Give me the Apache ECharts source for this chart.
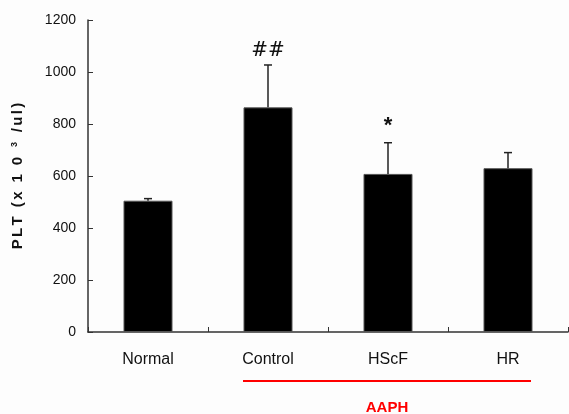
<!DOCTYPE html>
<html>
<head>
<meta charset="utf-8">
<script src="https://cdn.jsdelivr.net/npm/echarts@6/dist/echarts.min.js"></script>
<style>html,body{margin:0;padding:0;background:#fdfdfd;}#c{width:569px;height:414px;}</style>
</head>
<body>
<div id="c"></div>
<script>
const categories = ['Normal', 'Control', 'HScF', 'HR'];
const values = [505, 864, 608, 630];
const errors = [8, 163, 120, 60];
const sigLabels = ['', '##', '*', ''];
const yTicks = [0, 200, 400, 600, 800, 1000, 1200];
const groupLabel = 'AAPH';
const yNameParts = ['PLT (x 1 0 ', '3', ' /ul)'];

const chart = echarts.init(document.getElementById('c'));
const font = 'Liberation Sans, Arial, sans-serif';

function spaced(str) {
  return str.split('').map(ch => '{a|' + ch + '}').join('');
}
const yName = spaced(yNameParts[0]) + '{s|' + yNameParts[1] + '}' + spaced(yNameParts[2]);

chart.setOption({
  backgroundColor: '#fdfdfd',
  animation: false,
  grid: { left: 88, right: 1, top: 20, bottom: 82, containLabel: false },
  xAxis: {
    type: 'category',
    data: categories,
    axisLine: { lineStyle: { color: '#333', width: 1.5 } },
    axisTick: { show: true, inside: true, length: 5, interval: 0, lineStyle: { color: '#333' } },
    axisLabel: { margin: 20, fontFamily: font, fontSize: 16, color: '#111' }
  },
  yAxis: {
    type: 'value',
    min: yTicks[0], max: yTicks[yTicks.length - 1], interval: 200,
    splitLine: { show: false },
    axisLine: { show: true, lineStyle: { color: '#333', width: 1.5 } },
    axisTick: { show: true, inside: true, length: 5, lineStyle: { color: '#333' } },
    axisLabel: { margin: 12, fontFamily: font, fontSize: 14, color: '#111', formatter: v => String(v) },
    name: yName,
    nameLocation: 'middle',
    nameRotate: 90,
    nameGap: 62,
    nameTextStyle: {
      rich: {
        a: { fontFamily: font, fontSize: 15, fontWeight: 'bold', color: '#111', padding: [0, 1.2, 0, 1.2] },
        s: { fontFamily: font, fontSize: 9, fontWeight: 'bold', color: '#111', verticalAlign: 'top', padding: [0, 2, 7, 2] }
      }
    }
  },
  series: [
    {
      type: 'bar',
      data: values,
      barWidth: 49,
      itemStyle: { color: '#000', borderColor: '#555', borderWidth: 1 },
      z: 2
    },
    {
      type: 'custom',
      data: values.map((v, i) => [i, v, v + errors[i]]),
      z: 3,
      renderItem: function (params, api) {
        const i = api.value(0);
        const base = api.coord([i, api.value(1)]);
        const top = api.coord([i, api.value(2)]);
        const hw = 4;
        const children = [
          { type: 'line', shape: { x1: base[0], y1: base[1], x2: top[0], y2: top[1] }, style: { stroke: '#222', lineWidth: 1.5 } },
          { type: 'line', shape: { x1: top[0] - hw, y1: top[1], x2: top[0] + hw, y2: top[1] }, style: { stroke: '#222', lineWidth: 1.5 } }
        ];
        const lab = sigLabels[i];
        if (lab) {
          const isStar = lab === '*';
          children.push({
            type: 'text',
            style: {
              text: lab,
              x: top[0],
              y: top[1] - (isStar ? 6 : 4),
              align: 'center',
              verticalAlign: 'bottom',
              fontFamily: isStar ? font : 'DejaVu Serif, serif',
              fontSize: isStar ? 22 : 20,
              fontWeight: isStar ? 'bold' : 'normal',
              fill: '#111'
            }
          });
        }
        return { type: 'group', children: children };
      }
    }
  ]
});

function drawGroup() {
  const p1 = chart.convertToPixel({ xAxisIndex: 0 }, 1);
  const p3 = chart.convertToPixel({ xAxisIndex: 0 }, 3);
  const y0 = chart.convertToPixel({ yAxisIndex: 0 }, 0);
  const x1 = p1 - 25, x2 = p3 + 23;
  chart.setOption({
    graphic: [
      { type: 'line', shape: { x1: x1, y1: y0 + 49, x2: x2, y2: y0 + 49 }, style: { stroke: '#f00', lineWidth: 2 } },
      { type: 'text', style: { text: groupLabel, x: (x1 + x2) / 2, y: y0 + 76, align: 'center', verticalAlign: 'middle', fontFamily: font, fontSize: 15, fontWeight: 'bold', fill: '#f00' } }
    ]
  });
}
drawGroup();
</script>
</body>
</html>
